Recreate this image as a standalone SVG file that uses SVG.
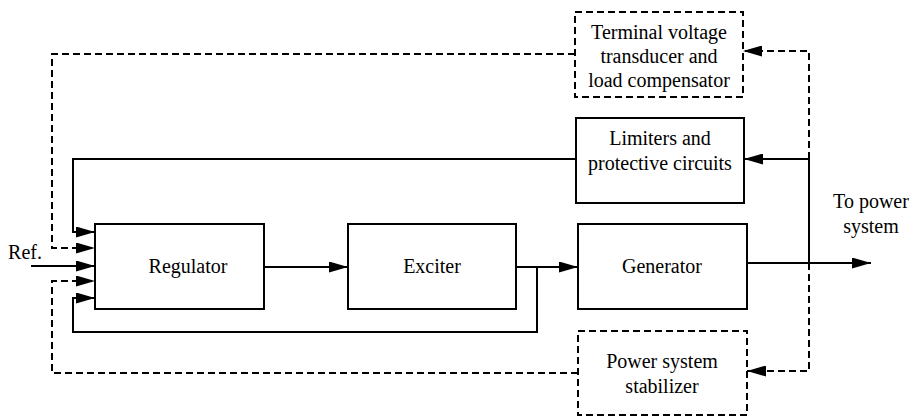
<svg xmlns="http://www.w3.org/2000/svg" width="913" height="417" viewBox="0 0 913 417">
<style>
.box{fill:none;stroke:#000;stroke-width:2}
.dbox{fill:none;stroke:#000;stroke-width:2;stroke-dasharray:7 4}
.ln{fill:none;stroke:#000;stroke-width:2}
.dl{fill:none;stroke:#000;stroke-width:2;stroke-dasharray:7 4}
.t{font-family:"Liberation Serif","Times New Roman",serif;font-size:20px;fill:#000;text-anchor:middle}
</style>
<defs>
<marker id="ah" markerUnits="userSpaceOnUse" markerWidth="19" markerHeight="11" refX="19" refY="5.5" orient="auto">
<path d="M0,0 L19,5.5 L0,11 z" fill="#000"/>
</marker>
</defs>
<rect width="913" height="417" fill="#fff"/>
<g id="regulator"><rect class="box" x="95" y="224" width="169" height="85"/><text class="t" x="188" y="273">Regulator</text></g>
<g id="exciter"><rect class="box" x="348" y="224" width="168" height="85"/><text class="t" x="432" y="273">Exciter</text></g>
<g id="generator"><rect class="box" x="578" y="224" width="169" height="85"/><text class="t" x="662" y="273">Generator</text></g>
<g id="limiters"><rect class="box" x="576" y="118" width="168" height="85"/><text class="t" x="660" y="145">Limiters and</text><text class="t" x="660" y="170">protective circuits</text></g>
<g id="transducer"><rect class="dbox" x="575" y="12" width="168" height="85"/><text class="t" x="659" y="39">Terminal voltage</text><text class="t" x="659" y="63">transducer and</text><text class="t" x="659" y="87">load compensator</text></g>
<g id="pss"><rect class="dbox" x="578" y="331" width="169" height="84"/><text class="t" x="662" y="368">Power system</text><text class="t" x="662" y="393">stabilizer</text></g>
<g id="labels"><text class="t" x="25" y="259">Ref.</text><text class="t" x="871" y="208">To power</text><text class="t" x="871" y="233">system</text></g>
<g id="connectors">
<path class="ln" d="M264,267 H348" marker-end="url(#ah)"/>
<path class="ln" d="M516,267 H578" marker-end="url(#ah)"/>
<path class="ln" d="M747,263 H871" marker-end="url(#ah)"/>
<path class="ln" d="M31,266 H95" marker-end="url(#ah)"/>
<path class="ln" d="M809,263 V159 H744" marker-end="url(#ah)"/>
<path class="ln" d="M576,159 H73 V232 H95" marker-end="url(#ah)"/>
<path class="ln" d="M537,267 V332 H73 V298 H95" marker-end="url(#ah)"/>
<path class="dl" d="M809,159 V51 H743" marker-end="url(#ah)"/>
<path class="dl" d="M575,54 H52 V248 H95" marker-end="url(#ah)"/>
<path class="dl" d="M809,263 V371 H747" marker-end="url(#ah)"/>
<path class="dl" d="M578,373 H52 V281 H95" marker-end="url(#ah)"/>
</g>
</svg>
